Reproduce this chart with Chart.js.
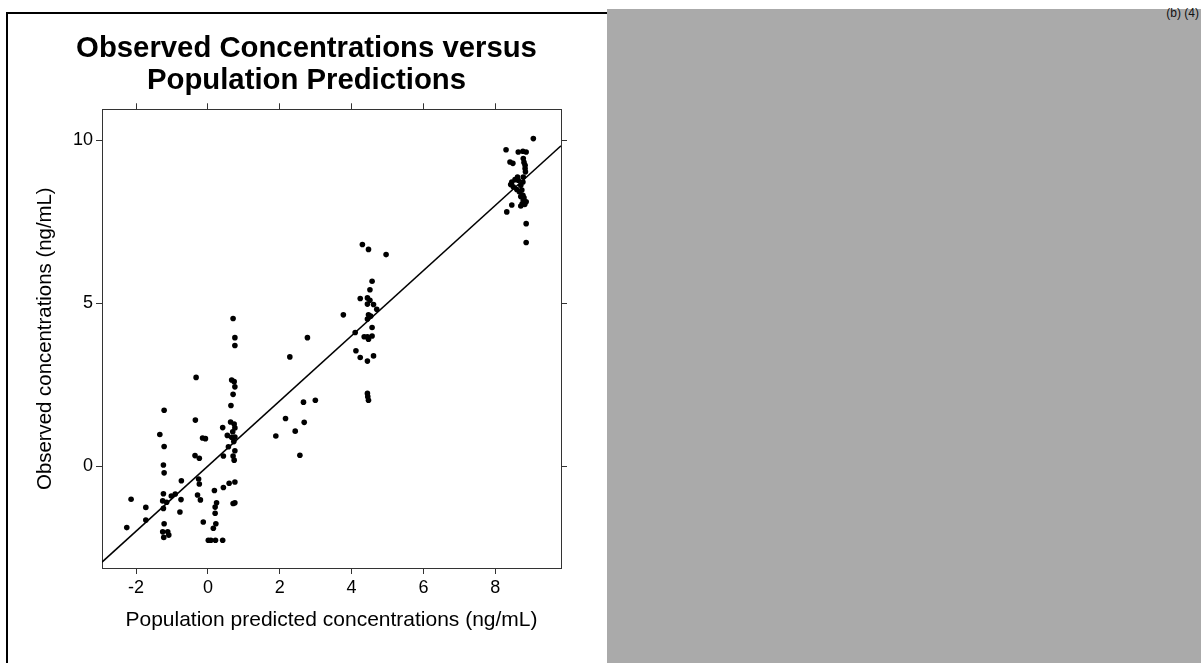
<!DOCTYPE html>
<html>
<head>
<meta charset="utf-8">
<script src="https://cdn.jsdelivr.net/npm/chart.js@4.4.1/dist/chart.umd.min.js"></script>
<style>
  html, body { margin: 0; padding: 0; background: #fff; }
  body { width: 1201px; height: 663px; position: relative; overflow: hidden; font-family: "Liberation Sans", Arial, sans-serif; }
  #wrap { position: absolute; left: 0; top: 0; width: 607px; height: 663px; }
  #frame { position: absolute; left: 6px; top: 12px; width: 601px; height: 651px; border-top: 2px solid #000; border-left: 2px solid #000; box-sizing: border-box; }
  #side { position: absolute; left: 607px; top: 9px; width: 594px; height: 654px; background: #aaaaaa; }
  #tag { position: absolute; right: 2px; top: 6px; font-size: 12px; color: #111; }
</style>
</head>
<body>
<div id="frame"></div>
<div id="wrap"><canvas id="chart"></canvas></div>
<div id="side"></div>
<div id="tag">(b) (4)</div>
<script>
// population predicted (x) vs observed (y), ng/mL
const popPred = [
  0.70, 0.75, 0.75, 3.77, 2.77, 2.28, -0.33, 0.66, 0.73, 0.75,
  0.70, 0.64, -1.22, -0.35, -1.34, -1.22, -0.15, -0.07, 0.41, 0.63,
  0.73, 0.75, 0.54, 0.69, 0.66, 0.72, 0.57, 0.75, 0.70, 0.73,
  0.43, -0.36, -0.24, 1.89, 2.16, 2.66, 2.99, 2.68, 2.43, 2.56,
  -1.24, -1.22, -0.74, -0.26, -0.24, 0.18, 0.43, 0.59, 0.75, 0.70,
  0.75, -1.24, -1.02, -0.91, -0.75, -0.29, -0.21, -1.26, -1.15, -1.24,
  -1.73, -2.14, -0.78, 0.24, 0.20, 0.20, -0.13, 0.22, 0.15, -1.73,
  -2.26, -1.22, -1.26, -1.12, -1.23, -1.09, 0.01, 0.08, 0.21, 0.41,
  0.75,
  4.30, 4.47, 4.96, 4.57, 4.51, 4.24, 4.44, 4.51, 4.44, 4.61,
  4.70, 4.47, 4.53, 4.44, 4.57, 4.10, 4.35, 4.44, 4.57, 4.47,
  4.12, 4.24, 4.44, 4.61, 4.44, 4.45, 4.47,
  9.06, 8.30, 8.64, 8.77, 8.86, 8.41, 8.49, 8.78, 8.80, 8.83,
  8.83, 8.84, 8.62, 8.55, 8.64, 8.78, 8.77, 8.71, 8.46, 8.43,
  8.50, 8.60, 8.67, 8.74, 8.77, 8.80, 8.71, 8.78, 8.86, 8.75,
  8.82, 8.71, 8.46, 8.32, 8.86, 8.86
];
const observed = [
  4.53, 3.94, 3.70, 4.64, 3.94, 3.35, 2.72, 2.64, 2.59, 2.43,
  2.20, 1.86, 1.71, 1.41, 0.97, 0.60, 0.86, 0.84, 1.18, 1.35,
  1.29, 1.17, 0.94, 1.05, 0.88, 0.75, 0.59, 0.47, 0.31, 0.18,
  0.31, 0.32, 0.24, 0.92, 1.46, 1.96, 2.02, 1.34, 1.07, 0.33,
  0.03, -0.21, -0.45, -0.40, -0.55, -0.75, -0.66, -0.53, -0.49, -1.15,
  -1.13, -0.85, -0.92, -0.86, -1.03, -0.89, -1.04, -1.07, -1.11, -1.30,
  -1.27, -1.02, -1.41, -1.13, -1.26, -1.45, -1.72, -1.77, -1.91, -1.66,
  -1.89, -1.77, -2.02, -2.02, -2.19, -2.12, -2.28, -2.28, -2.28, -2.28,
  0.89,
  6.80, 6.65, 6.49, 5.67, 5.41, 5.14, 5.16, 5.09, 4.97, 4.96,
  4.81, 4.64, 4.60, 4.51, 4.25, 4.10, 3.97, 3.97, 3.99, 3.89,
  3.54, 3.33, 3.22, 3.38, 2.23, 2.13, 2.02,
  10.05, 9.71, 9.64, 9.66, 9.64, 9.33, 9.29, 9.44, 9.32, 9.23,
  9.13, 9.03, 8.87, 8.79, 8.77, 8.87, 8.72, 8.62, 8.72, 8.64,
  8.57, 8.49, 8.42, 8.47, 8.31, 8.23, 8.27, 8.16, 8.11, 8.05,
  8.03, 7.98, 8.01, 7.80, 7.44, 6.86
];

const xTicks = [-2, 0, 2, 4, 6, 8];
const yTicks = [0, 5, 10];
const xRange = [-2.95, 9.83];
const yRange = [-3.13, 10.95];

const fontFam = "'Liberation Sans', Arial, sans-serif";
const axisColor = "#333";

const points = popPred.map((x, i) => ({ x: x, y: observed[i] }));
// line of identity across the x range
const identity = xRange.map((v) => ({ x: v, y: v }));

const setTicks = (list) => (scale) => {
  scale.ticks = list.map((v) => ({ value: v }));
};

const ctx = document.getElementById("chart").getContext("2d");
new Chart(ctx, {
  type: "scatter",
  data: {
    datasets: [
      {
        label: "Observed",
        data: points,
        pointRadius: 2.8,
        pointBackgroundColor: "#000",
        pointBorderWidth: 0,
        pointBorderColor: "#000",
      },
      {
        type: "line",
        label: "Identity",
        data: identity,
        borderColor: "#000",
        borderWidth: 1.5,
        pointRadius: 0,
        fill: false,
      },
    ],
  },
  options: {
    responsive: true,
    maintainAspectRatio: false,
    animation: false,
    layout: { padding: { left: 21, right: 15, top: 23, bottom: 26 } },
    plugins: {
      legend: { display: false },
      tooltip: { enabled: false },
      title: {
        display: true,
        text: ["Observed Concentrations versus", "Population Predictions"],
        color: "#000",
        font: { family: fontFam, size: 29.3, weight: "bold", lineHeight: 1.08 },
        padding: { top: 10, bottom: 7 },
      },
    },
    scales: {
      x: {
        type: "linear",
        position: "bottom",
        min: xRange[0],
        max: xRange[1],
        afterBuildTicks: setTicks(xTicks),
        afterFit: (s) => { s.height = 69; },
        ticks: { color: "#000", padding: 3, font: { family: fontFam, size: 18 } },
        grid: { drawOnChartArea: false, tickLength: 6, color: axisColor },
        border: { color: axisColor, width: 1 },
        title: {
          display: true,
          text: "Population predicted concentrations (ng/mL)",
          color: "#000",
          font: { family: fontFam, size: 21 },
          padding: { top: 9, bottom: 4 },
        },
      },
      x2: {
        type: "linear",
        position: "top",
        min: xRange[0],
        max: xRange[1],
        afterBuildTicks: setTicks(xTicks),
        ticks: { display: false },
        grid: { drawOnChartArea: false, tickLength: 6, color: axisColor },
        border: { color: axisColor, width: 1 },
      },
      y: {
        type: "linear",
        position: "left",
        min: yRange[0],
        max: yRange[1],
        afterBuildTicks: setTicks(yTicks),
        afterFit: (s) => { s.width = 81; },
        ticks: { color: "#000", padding: 3, font: { family: fontFam, size: 18 } },
        grid: { drawOnChartArea: false, tickLength: 6, color: axisColor },
        border: { color: axisColor, width: 1 },
        title: {
          display: true,
          text: "Observed concentrations (ng/mL)",
          color: "#000",
          font: { family: fontFam, size: 20.4 },
          padding: { top: 12, bottom: 4 },
        },
      },
      y2: {
        type: "linear",
        position: "right",
        min: yRange[0],
        max: yRange[1],
        afterBuildTicks: setTicks(yTicks),
        afterFit: (s) => { s.width = 31; },
        ticks: { display: false },
        grid: { drawOnChartArea: false, tickLength: 6, color: axisColor },
        border: { color: axisColor, width: 1 },
      },
    },
  },
});
</script>
</body>
</html>
